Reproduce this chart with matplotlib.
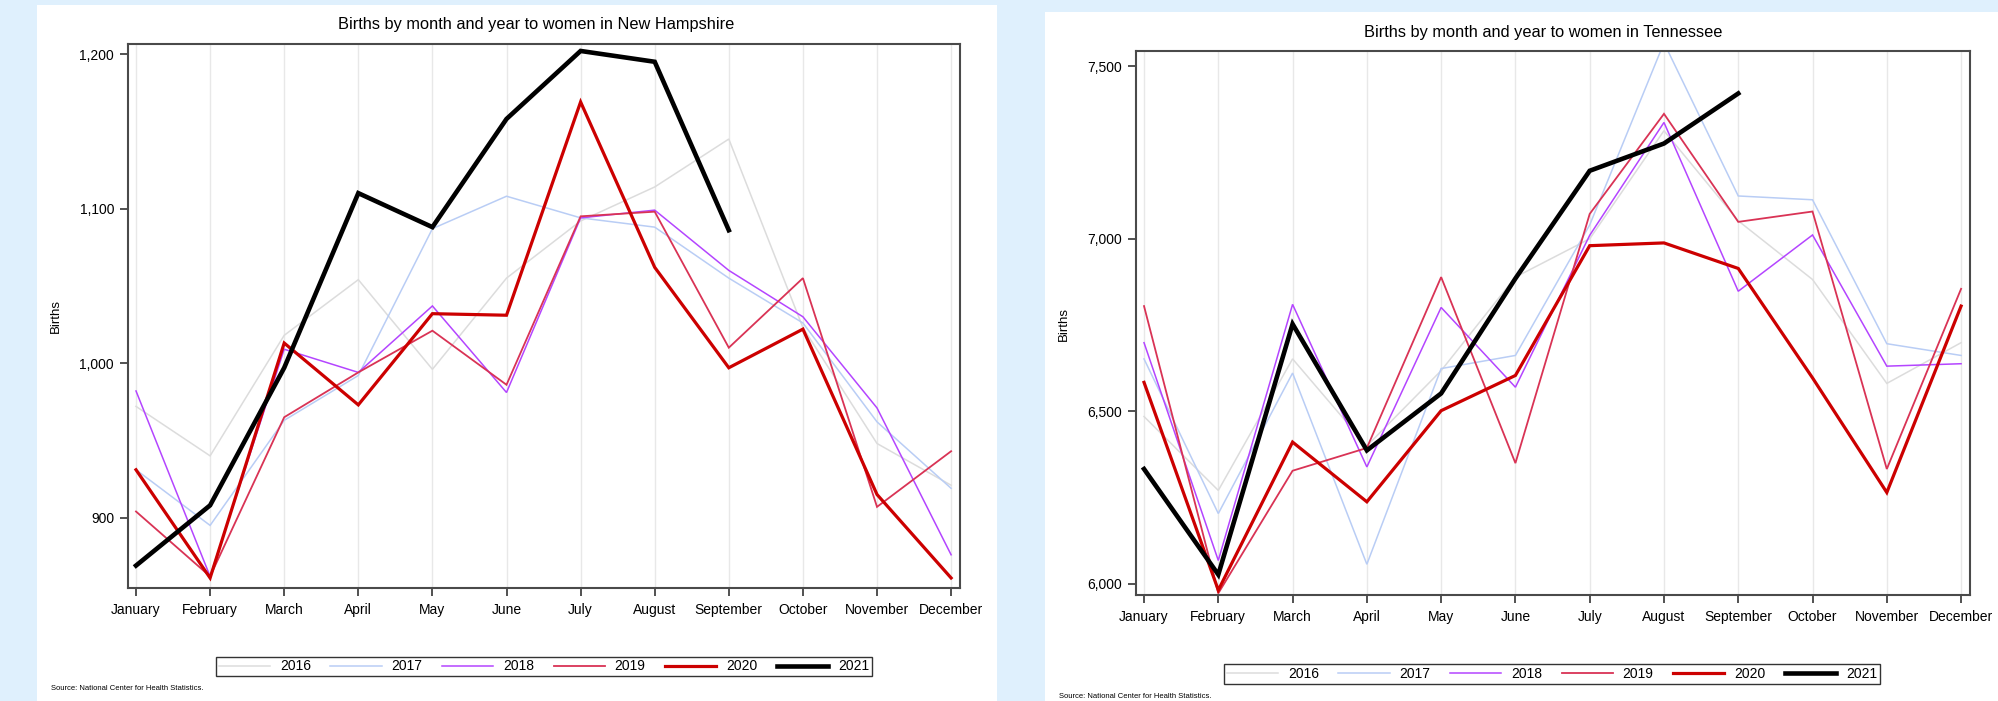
import matplotlib
matplotlib.use('Agg')
import matplotlib.pyplot as plt
from matplotlib.patches import Rectangle
from matplotlib.ticker import FuncFormatter

plt.rcParams['font.family'] = ['Liberation Sans', 'DejaVu Sans']

months = ['January', 'February', 'March', 'April', 'May', 'June', 'July',
          'August', 'September', 'October', 'November', 'December']
years = ['2016', '2017', '2018', '2019', '2020', '2021']

# New Hampshire births
nh_2016 = [972, 940, 1018, 1054, 996, 1055, 1092, 1114, 1145, 1023, 948, 921]
nh_2017 = [931, 895, 963, 992, 1087, 1108, 1094, 1088, 1055, 1026, 962, 919]
nh_2018 = [982, 862, 1009, 994, 1037, 981, 1094, 1099, 1060, 1030, 971, 876]
nh_2019 = [904, 862, 965, 994, 1021, 986, 1095, 1098, 1010, 1055, 907, 943]
nh_2020 = [931, 861, 1013, 973, 1032, 1031, 1169, 1062, 997, 1022, 915, 861]
nh_2021 = [869, 908, 997, 1110, 1088, 1158, 1202, 1195, 1086]

# Tennessee births
tn_2016 = [6485, 6271, 6652, 6400, 6618, 6889, 7000, 7313, 7052, 6882, 6581, 6699]
tn_2017 = [6652, 6204, 6611, 6057, 6624, 6662, 7040, 7568, 7124, 7113, 6696, 6662]
tn_2018 = [6699, 6068, 6810, 6339, 6801, 6570, 7010, 7337, 6848, 7011, 6631, 6638]
tn_2019 = [6805, 5973, 6328, 6394, 6889, 6350, 7072, 7362, 7049, 7079, 6333, 6855]
tn_2020 = [6584, 5982, 6411, 6238, 6502, 6604, 6980, 6988, 6914, 6597, 6265, 6805]
tn_2021 = [6333, 6027, 6753, 6387, 6552, 6885, 7197, 7276, 7421]

colors = ['#dcdcdc', '#b9cdf5', '#b445ff', '#d93355', '#cc0000', '#000000']
widths = [1.1, 1.1, 1.1, 1.3, 2.3, 3.3]

BG = '#dff0fd'
fig = plt.figure(figsize=(19.99, 7.01), dpi=100, facecolor=BG)

# white panels behind each chart
fig.patches.append(Rectangle((37 / 1999, 0), 960 / 1999, 696 / 701,
                             transform=fig.transFigure, facecolor='white',
                             edgecolor='none', zorder=-10))
fig.patches.append(Rectangle((1045 / 1999, 0), 954 / 1999, 689 / 701,
                             transform=fig.transFigure, facecolor='white',
                             edgecolor='none', zorder=-10))

ax_nh = fig.add_axes([128 / 1999, 1 - 588 / 701, 832 / 1999, 544 / 701])
ax_tn = fig.add_axes([1136 / 1999, 1 - 595 / 701, 834 / 1999, 544 / 701])

comma = FuncFormatter(lambda v, p: f'{int(v):,}')


def draw(ax, series, yticks, ylim):
    for vals, c, lw, yr in zip(series, colors, widths, years):
        ax.plot(range(len(vals)), vals, color=c, linewidth=lw, label=yr,
                solid_joinstyle='miter')
    ax.set_xlim(-0.108, 11.12)
    ax.set_ylim(*ylim)
    ax.set_xticks(range(12))
    ax.set_xticklabels(months, fontsize=10)
    ax.set_yticks(yticks)
    ax.yaxis.set_major_formatter(comma)
    ax.tick_params(axis='y', labelsize=10, length=6, width=1.2, pad=4, color='#333333')
    ax.tick_params(axis='x', length=6, width=1.2, pad=5, color='#333333')
    ax.grid(axis='x', color='#e8e8e8', linewidth=1)
    ax.set_axisbelow(True)
    for s in ax.spines.values():
        s.set_color('#4a4a4a')
        s.set_linewidth(1.5)


draw(ax_nh, [nh_2016, nh_2017, nh_2018, nh_2019, nh_2020, nh_2021],
     [900, 1000, 1100, 1200], (854.5, 1206.5))
draw(ax_tn, [tn_2016, tn_2017, tn_2018, tn_2019, tn_2020, tn_2021],
     [6000, 6500, 7000, 7500], (5968, 7544))

# titles, axis labels, sources
fig.text(536 / 1999, 1 - 25 / 701, 'Births by month and year to women in New Hampshire',
         ha='center', va='center', fontsize=11.8)
fig.text(1543 / 1999, 1 - 32 / 701, 'Births by month and year to women in Tennessee',
         ha='center', va='center', fontsize=11.8)
fig.text(56 / 1999, 1 - 316 / 701, 'Births', rotation=90, ha='center', va='center', fontsize=9.5)
fig.text(1064 / 1999, 1 - 324 / 701, 'Births', rotation=90, ha='center', va='center', fontsize=9.5)
fig.text(51 / 1999, 1 - 688 / 701, 'Source: National Center for Health Statistics.',
         ha='left', va='center', fontsize=5.5)
fig.text(1059 / 1999, 1 - 696 / 701, 'Source: National Center for Health Statistics.',
         ha='left', va='center', fontsize=5.5)

# legends
for ax, cx, cy in [(ax_nh, 544, 666.5), (ax_tn, 1552, 674)]:
    h, l = ax.get_legend_handles_labels()
    leg = fig.legend(h, l, loc='center', bbox_to_anchor=(cx / 1999, 1 - cy / 701),
                     ncol=6, fontsize=10, frameon=True, fancybox=False,
                     handlelength=3.7, handletextpad=0.7, columnspacing=1.4,
                     borderpad=0.2, borderaxespad=0)
    leg.get_frame().set_edgecolor('black')
    leg.get_frame().set_linewidth(1.0)

fig.savefig('out.png', dpi=100, facecolor=BG)
